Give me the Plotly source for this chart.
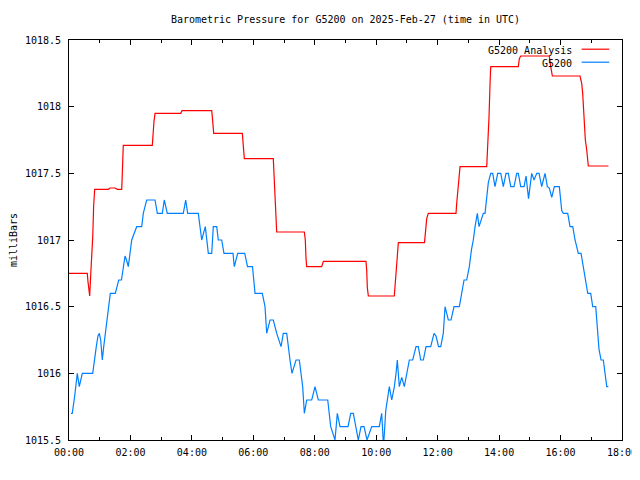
import plotly.graph_objects as go

TITLE = "Barometric Pressure for G5200 on 2025-Feb-27 (time in UTC)"
Y_LABEL = "milliBars"
ANALYSIS_NAME = "G5200 Analysis"
OBS_NAME = "G5200"

# G5200 Analysis (minutes after 00:00 UTC, millibars)
analysis_minutes = [0, 35.7, 37.0, 38.5, 40.4, 42.4, 44.3, 46.3, 48.2, 50.2,
                    76.8, 80.0, 90.0, 94.3, 103.0, 103.5, 104.9, 106.0,
                    162.7, 163.5, 166.0, 168.0, 218.2, 220.7, 278.7, 279.9,
                    281.2, 282.6, 338.5, 339.8, 341.2, 342.4, 399.0, 400.4,
                    402.9, 404.2, 405.6, 459.6, 461.5, 462.9, 464.2, 493.5,
                    496.8, 580.0, 581.4, 582.6, 584.6, 635.3, 636.7, 638.0,
                    641.2, 643.2, 694.3, 697.2, 698.6, 701.7, 755.8, 757.2,
                    759.2, 761.7, 763.7, 815.8, 817.7, 820.3, 822.3, 823.6,
                    877.5, 879.5, 882.2, 938.0, 940.8, 944.0, 998.0, 1001.3,
                    1003.2, 1005.8, 1008.4, 1011.1, 1014.2, 1053.5]
analysis_mb = [1016.75, 1016.75, 1016.69, 1016.61, 1016.58, 1016.74, 1016.85,
               1017.02, 1017.26, 1017.38, 1017.38, 1017.39, 1017.39, 1017.38,
               1017.38, 1017.46, 1017.63, 1017.71, 1017.71, 1017.775, 1017.89,
               1017.95, 1017.95, 1017.97, 1017.97, 1017.925, 1017.84, 1017.80,
               1017.80, 1017.75, 1017.66, 1017.61, 1017.61, 1017.51, 1017.34,
               1017.155, 1017.06, 1017.06, 1017.0, 1016.86, 1016.80, 1016.80,
               1016.84, 1016.84, 1016.775, 1016.645, 1016.58, 1016.58, 1016.65,
               1016.79, 1016.93, 1016.98, 1016.98, 1017.075, 1017.16, 1017.20,
               1017.20, 1017.275, 1017.375, 1017.49, 1017.55, 1017.55, 1017.675,
               1017.925, 1018.175, 1018.30, 1018.30, 1018.36, 1018.38, 1018.38,
               1018.30, 1018.23, 1018.23, 1018.175, 1018.10, 1017.925, 1017.75,
               1017.675, 1017.555, 1017.555]

# G5200 observations (minutes after 00:00 UTC, millibars)
obs_minutes = [3.9, 6.4, 11.1, 13.7, 16.2, 20.1, 26.0, 46.3, 49.4, 53.3, 56.6,
               59.2, 61.9, 63.1, 65.0, 67.8, 72.3, 77.5, 80.7, 90.4, 97.1,
               102.5, 106.4, 109.4, 112.3, 115.8, 122.5, 125.6, 132.2, 142.0,
               145.1, 148.4, 151.8, 168.0, 172.5, 182.2, 186.1, 192.0, 223.2,
               227.9, 231.8, 252.5, 255.9, 259.2, 266.2, 272.1, 278.7, 281.8,
               288.5, 291.6, 298.2, 302.7, 320.3, 322.8, 329.5, 343.2, 348.6,
               358.4, 363.3, 377.5, 382.8, 386.1, 392.6, 399.0, 405.7, 409.2,
               414.1, 418.5, 425.2, 431.6, 435.5, 443.4, 449.8, 456.4, 459.6,
               464.3, 474.0, 480.5, 486.9, 505.3, 511.1, 519.5, 524.0, 529.3,
               544.9, 550.2, 555.3, 565.0, 570.3, 576.2, 582.0, 591.2, 606.0,
               610.7, 614.3, 618.6, 622.5, 625.6, 630.3, 635.4, 638.7, 641.2,
               645.1, 649.8, 654.9, 659.6, 664.7, 671.3, 677.7, 682.2, 686.9,
               692.0, 697.3, 706.4, 712.9, 716.8, 721.7, 726.0, 731.0, 734.4,
               737.7, 740.8, 746.1, 751.9, 762.3, 767.0, 771.5, 776.7, 781.8,
               786.1, 789.6, 793.0, 796.3, 797.5, 800.8, 804.7, 809.2, 812.5,
               815.8, 818.9, 823.6, 827.5, 832.0, 837.3, 843.2, 848.2, 853.5,
               858.0, 862.7, 869.1, 874.4, 877.5, 882.2, 888.7, 892.6, 897.5,
               900.4, 903.7, 908.2, 913.5, 918.0, 923.2, 926.4, 929.7, 934.2,
               938.1, 942.8, 947.9, 957.6, 962.3, 965.4, 974.0, 978.5, 983.8,
               988.3, 992.8, 994.7, 1000.0, 1004.5, 1009.8, 1013.1, 1018.9,
               1022.8, 1028.7, 1031.8, 1035.1, 1039.1, 1043.5, 1046.9, 1050.2,
               1053.3]
obs_mb = [1015.70, 1015.70, 1015.83, 1015.90, 1016.00, 1015.90, 1016.00,
          1016.00, 1016.10, 1016.20, 1016.28, 1016.30, 1016.25, 1016.15,
          1016.10, 1016.20, 1016.35, 1016.50, 1016.60, 1016.60, 1016.70,
          1016.70, 1016.80, 1016.88, 1016.85, 1016.80, 1017.00, 1017.03,
          1017.10, 1017.10, 1017.20, 1017.25, 1017.30, 1017.30, 1017.20,
          1017.20, 1017.30, 1017.20, 1017.20, 1017.30, 1017.20, 1017.20,
          1017.10, 1017.00, 1017.10, 1016.90, 1016.90, 1017.10, 1017.10,
          1017.00, 1017.00, 1016.90, 1016.90, 1016.80, 1016.90, 1016.90,
          1016.80, 1016.80, 1016.60, 1016.60, 1016.50, 1016.30, 1016.40,
          1016.40, 1016.30, 1016.25, 1016.20, 1016.30, 1016.30, 1016.10,
          1016.00, 1016.10, 1016.10, 1015.90, 1015.70, 1015.80, 1015.80,
          1015.90, 1015.80, 1015.80, 1015.60, 1015.50, 1015.70, 1015.60,
          1015.60, 1015.70, 1015.70, 1015.50, 1015.60, 1015.60, 1015.50,
          1015.60, 1015.60, 1015.70, 1015.45, 1015.72, 1015.83, 1015.90,
          1015.80, 1015.90, 1016.00, 1016.10, 1015.90, 1015.97, 1015.90,
          1016.00, 1016.10, 1016.10, 1016.20, 1016.20, 1016.10, 1016.10,
          1016.20, 1016.20, 1016.30, 1016.28, 1016.20, 1016.20, 1016.30,
          1016.50, 1016.45, 1016.40, 1016.40, 1016.50, 1016.50, 1016.60,
          1016.70, 1016.70, 1016.80, 1016.93, 1017.00, 1017.10, 1017.20,
          1017.20, 1017.10, 1017.15, 1017.20, 1017.20, 1017.35, 1017.43,
          1017.50, 1017.50, 1017.40, 1017.50, 1017.50, 1017.40, 1017.50,
          1017.50, 1017.40, 1017.40, 1017.50, 1017.50, 1017.40, 1017.40,
          1017.48, 1017.31, 1017.40, 1017.50, 1017.45, 1017.50, 1017.50,
          1017.40, 1017.45, 1017.50, 1017.40, 1017.39, 1017.32, 1017.40,
          1017.40, 1017.22, 1017.20, 1017.20, 1017.10, 1017.10, 1017.00,
          1016.93, 1016.90, 1016.90, 1016.80, 1016.67, 1016.60, 1016.60,
          1016.50, 1016.50, 1016.35, 1016.18, 1016.10, 1016.10, 1016.00,
          1015.90, 1015.90]

x_tick_hours = [0, 2, 4, 6, 8, 10, 12, 14, 16, 18]
x_tick_labels = ["00:00", "02:00", "04:00", "06:00", "08:00", "10:00",
                 "12:00", "14:00", "16:00", "18:00"]
y_tick_values = [1015.5, 1016, 1016.5, 1017, 1017.5, 1018, 1018.5]
y_tick_labels = ["1015.5", "1016", "1016.5", "1017", "1017.5", "1018", "1018.5"]

RED = "#ff0000"
BLUE = "#0080ff"
FONT = "DejaVu Sans Mono"

# The page body has an 8px margin; size the figure so it fills the 640x480 view.
FIG_W, FIG_H = 632, 472

fig = go.Figure()
fig.add_trace(go.Scatter(x=[m / 60 for m in analysis_minutes], y=analysis_mb,
                         mode="lines", name=ANALYSIS_NAME,
                         line=dict(color=RED, width=1.2), showlegend=False))
fig.add_trace(go.Scatter(x=[m / 60 for m in obs_minutes], y=obs_mb,
                         mode="lines", name=OBS_NAME,
                         line=dict(color=BLUE, width=1.2), showlegend=False))

axis_common = dict(showline=True, linecolor="black", linewidth=1, mirror="allticks",
                   ticks="inside", tickcolor="black", tickwidth=1, ticklen=5,
                   showgrid=False, zeroline=False, automargin=False,
                   tickfont=dict(family=FONT, size=10, color="black"))

fig.update_xaxes(range=[0, 18], tickmode="array", tickvals=x_tick_hours,
                 ticktext=x_tick_labels, ticklabelstandoff=3,
                 minor=dict(ticks="inside", dtick=1, tick0=0, ticklen=3,
                            tickcolor="black", tickwidth=1, showgrid=False),
                 **axis_common)
fig.update_yaxes(range=[1015.5, 1018.5], tickmode="array", tickvals=y_tick_values,
                 ticktext=y_tick_labels, ticklabelstandoff=5,
                 title=dict(text=Y_LABEL, font=dict(family=FONT, size=10, color="black"),
                            standoff=13),
                 **axis_common)

# gnuplot-style key: text right-aligned, line sample to its right
legend_entries = [(ANALYSIS_NAME, RED, 0.975), (OBS_NAME, BLUE, 0.9425)]
annotations = []
shapes = []
for name, color, ypos in legend_entries:
    annotations.append(dict(text=name, xref="paper", yref="paper", x=0.9132, y=ypos,
                            xanchor="right", yanchor="middle", showarrow=False,
                            font=dict(family=FONT, size=10, color="black")))
    shapes.append(dict(type="line", xref="paper", yref="paper", x0=0.927, x1=0.977,
                       y0=ypos + 0.002, y1=ypos + 0.002, line=dict(color=color, width=1.2)))

fig.update_layout(
    width=FIG_W, height=FIG_H,
    margin=dict(l=61, r=18, t=32, b=40),
    paper_bgcolor="white", plot_bgcolor="white",
    title=dict(text=TITLE, x=337.5 / FIG_W, xanchor="center", y=1 - 11 / FIG_H,
               yanchor="middle", font=dict(family=FONT, size=10, color="black")),
    annotations=annotations, shapes=shapes,
    showlegend=False,
)

fig.write_html("out.html")
